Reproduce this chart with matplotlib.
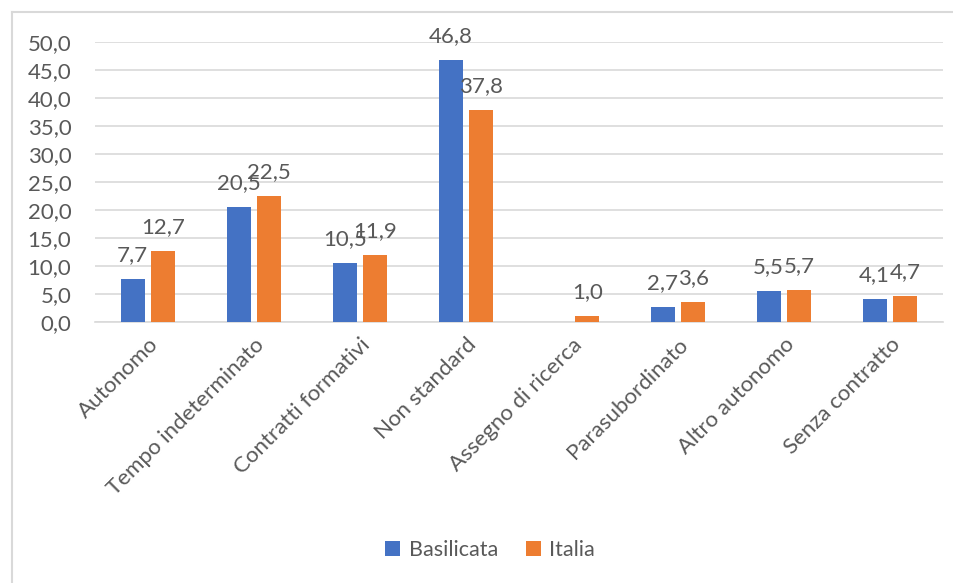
import numpy as np
import matplotlib
matplotlib.use("Agg")
import matplotlib.pyplot as plt
from matplotlib.lines import Line2D

categories = [
    "Autonomo",
    "Tempo indeterminato",
    "Contratti formativi",
    "Non standard",
    "Assegno di ricerca",
    "Parasubordinato",
    "Altro autonomo",
    "Senza contratto",
]
basilicata = [7.7, 20.5, 10.5, 46.8, np.nan, 2.7, 5.5, 4.1]
italia = [12.7, 22.5, 11.9, 37.8, 1.0, 3.6, 5.7, 4.7]
series_names = ["Basilicata", "Italia"]

BLUE = "#4472C4"
ORANGE = "#ED7D31"
TEXT = "#595959"
GRID = "#D9D9D9"

plt.rcParams["font.family"] = ["Lato", "DejaVu Sans"]

fig = plt.figure(figsize=(9.54, 5.83), dpi=100)
ax = fig.add_axes([95 / 954, 1 - 322 / 583, (943 - 95) / 954, (322 - 42) / 583])

x = np.arange(len(categories))
w = 0.225
off = 0.145

bars_b = ax.bar(x - off, basilicata, w, color=BLUE, label=series_names[0], zorder=3)
bars_i = ax.bar(x + off, italia, w, color=ORANGE, label=series_names[1], zorder=3)

for bars, vals in ((bars_b, basilicata), (bars_i, italia)):
    for rect, v in zip(bars, vals):
        if np.isnan(v):
            continue
        ax.annotate(f"{v:.1f}".replace(".", ","),
                    (rect.get_x() + rect.get_width() / 2, v),
                    xytext=(0, 13), textcoords="offset points",
                    ha="center", va="baseline", fontsize=16, color=TEXT,
                    zorder=4)

ax.set_xlim(-0.5, len(categories) - 0.5)
ax.set_ylim(0, 50)
ax.set_yticks(np.arange(0, 51, 5))
ax.set_yticklabels([f"{t:.1f}".replace(".", ",") for t in np.arange(0, 51, 5)])
ax.set_xticks(x)
ax.set_xticklabels(categories, rotation=45, ha="right", rotation_mode="anchor")

ax.tick_params(axis="both", length=0, labelsize=16, labelcolor=TEXT)
ax.tick_params(axis="y", pad=17)
ax.tick_params(axis="x", pad=9)

ax.yaxis.grid(True, color=GRID, linewidth=1.2, zorder=0)
ax.set_axisbelow(True)
for side in ("top", "right", "left"):
    ax.spines[side].set_visible(False)
ax.spines["bottom"].set_color(GRID)
ax.spines["bottom"].set_linewidth(1.2)

leg = fig.legend(loc="center", bbox_to_anchor=(490 / 954, 1 - 550 / 583), ncol=2,
                 frameon=False, fontsize=15.5, handlelength=0.7, handleheight=0.7,
                 handletextpad=0.4, columnspacing=1.3)
for t in leg.get_texts():
    t.set_color(TEXT)

# outer chart frame (only top and left edges visible in the crop)
fig.add_artist(Line2D([12 / 954, 12 / 954], [0, 1 - 12 / 583], transform=fig.transFigure,
                      color=GRID, linewidth=1.5))
fig.add_artist(Line2D([12 / 954, 1], [1 - 12 / 583, 1 - 12 / 583], transform=fig.transFigure,
                      color=GRID, linewidth=1.5))

fig.savefig("out.png", dpi=100, facecolor="white")
